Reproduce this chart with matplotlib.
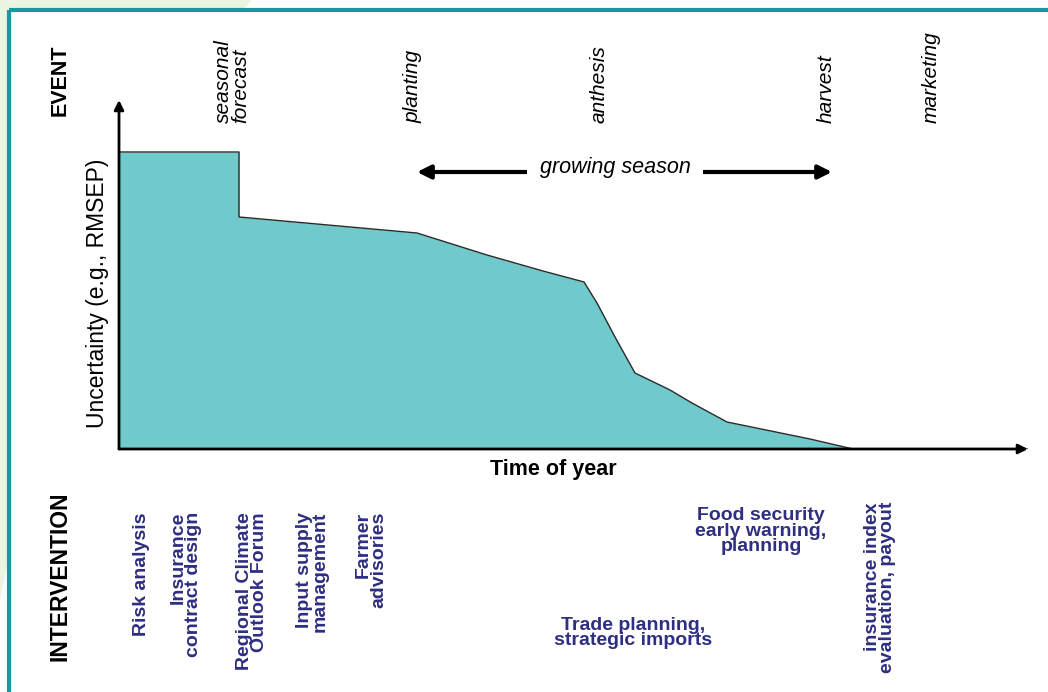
import matplotlib
matplotlib.use("Agg")
import matplotlib.pyplot as plt
from matplotlib.patches import Polygon

plt.rcParams['font.family'] = ['Liberation Sans', 'DejaVu Sans']

# uncertainty curve (time axis 0..909, uncertainty 0..349)
time = [0, 120, 120, 298, 368, 424, 465, 478, 496, 516, 551, 573, 608, 691, 734, 909]
uncertainty = [297, 297, 232, 216, 194, 178, 167, 146, 112, 76, 59, 46, 27, 10, 0, 0]

events = ["seasonal\nforecast", "planting", "anthesis", "harvest", "marketing"]
event_x = [232, 413, 599, 826, 931]

rot_labels = ["Risk analysis", "Insurance\ncontract design",
              "Regional Climate\nOutlook Forum", "Input supply\nmanagement",
              "Farmer\nadvisories", "insurance index\nevaluation, payout"]
rot_x = [141, 186, 252, 312, 371, 880]
rot_top = [512, 512, 512, 512, 512, 502]

flat_labels = ["Food security\nearly warning,\nplanning", "Trade planning,\nstrategic imports"]
flat_xy = [(761, 531), (633, 633)]

W, H = 1048, 692
navy = "#2e2e82"
teal_fill = "#70c9ca"
frame = "#1b97a0"

fig = plt.figure(figsize=(W / 100, H / 100), dpi=100)

# pixel-space layer for frame and labels
bg = fig.add_axes([0, 0, 1, 1])
bg.set_xlim(0, W)
bg.set_ylim(H, 0)
bg.axis('off')
bg.add_patch(Polygon([(0, 0), (252, 0), (245, 8), (8, 8), (8, 560), (0, 600)],
                     closed=True, color="#eaf5e2", lw=0))
bg.plot([9, W], [10, 10], color=frame, lw=3, solid_capstyle='butt')
bg.plot([9, 9], [10, H], color=frame, lw=3, solid_capstyle='butt')

# main chart
ox, oy = 119, 449
ax = fig.add_axes([ox / W, (H - oy) / H, 909 / W, 349 / H])
ax.set_xlim(0, 909)
ax.set_ylim(0, 349)
ax.fill_between(time, uncertainty, 0, color=teal_fill, lw=0)
ax.plot(time, uncertainty, color="#2a2a2a", lw=1)
ax.axis('off')
ax.annotate('', xy=(0, 1), xytext=(0, 0), xycoords='axes fraction',
            arrowprops=dict(arrowstyle='-|>', lw=2, color='black', mutation_scale=14,
                            shrinkA=0, shrinkB=0), annotation_clip=False)
ax.annotate('', xy=(1, 0), xytext=(0, 0), xycoords='axes fraction',
            arrowprops=dict(arrowstyle='-|>', lw=2, color='black', mutation_scale=14,
                            shrinkA=0, shrinkB=0), annotation_clip=False)

# growing season arrow
bg.annotate('', xy=(832, 172), xytext=(417, 172),
            arrowprops=dict(arrowstyle='<|-|>', lw=3, color='black', mutation_scale=20,
                            shrinkA=0, shrinkB=0))
bg.text(615, 168, "growing season", ha='center', va='center', fontsize=15.5,
        style='italic', bbox=dict(facecolor='white', edgecolor='none', pad=9))

# axis labels
bg.text(98, 293, "Uncertainty (e.g., RMSEP)", rotation=90, ha='center', va='center',
        fontsize=16.5)
bg.text(553, 469, "Time of year", ha='center', va='center', fontsize=15.5,
        fontweight='bold')
bg.text(60, 80, "EVENT", rotation=90, ha='center', va='center', fontsize=15.5,
        fontweight='bold')
bg.text(60, 576, "INTERVENTION", rotation=90, ha='center', va='center', fontsize=16.5,
        fontweight='bold')

# events
for name, x in zip(events, event_x):
    bg.text(x, 123, name, rotation=90, ha='center', va='bottom', fontsize=15,
            style='italic', linespacing=0.85, multialignment='left')

# interventions
for name, x, top in zip(rot_labels, rot_x, rot_top):
    bg.text(x, top, name, rotation=90, ha='center', va='top', fontsize=14,
            fontweight='bold', color=navy, linespacing=0.9, multialignment='right')
for name, (x, y) in zip(flat_labels, flat_xy):
    bg.text(x, y, name, ha='center', va='center', fontsize=14, fontweight='bold',
            color=navy, linespacing=0.9)

fig.savefig("out.png", dpi=100)
